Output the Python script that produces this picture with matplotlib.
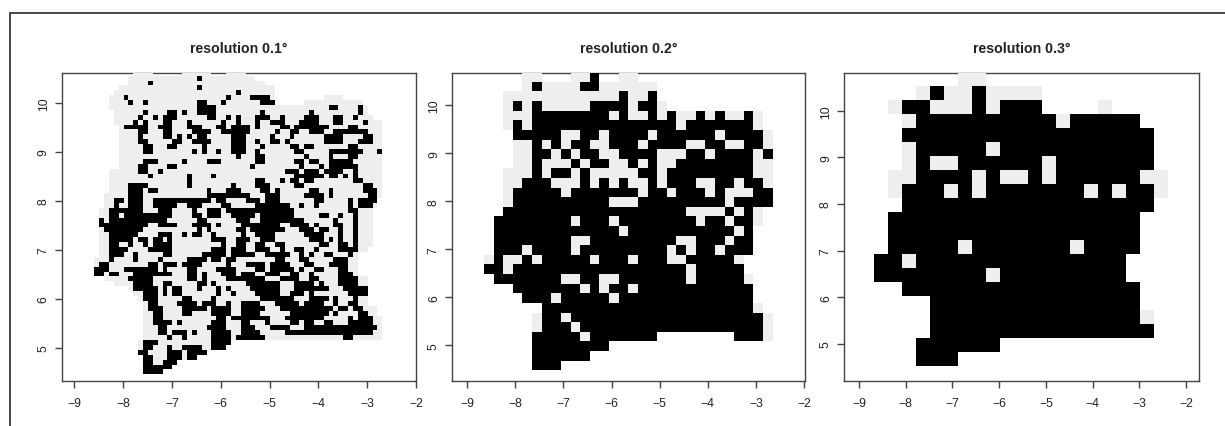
import matplotlib
matplotlib.use("Agg")
import matplotlib.pyplot as plt
import numpy as np
from matplotlib.colors import ListedColormap
from matplotlib.patches import Rectangle

plt.rcParams['font.family'] = ['Liberation Sans', 'DejaVu Sans']

W, H = 1225, 427

TITLES = ["resolution 0.1°", "resolution 0.2°", "resolution 0.3°"]
X_TICKS = [-9, -8, -7, -6, -5, -4, -3, -2]
Y_TICKS = [5, 6, 7, 8, 9, 10]
CELL_SIZES = [0.1, 0.2, 0.3]

# Each row, top to bottom: g = gridded land without record, # = cell with record
ROWS_01 = [
 "g8-11 g18-23 g27-30",
 "g7-32 #21",
 "g7-34 #11",
 "g5-36 #21",
 "g4-36 #29",
 "g3-36 g47-50 #6 #27 #32-35",
 "g3-36 g43-54 #7 #10 #21-22 #26 #34-36",
 "g3-55 #21-24 #48-49 #54",
 "g4-55 #10 #15-16 #18 #21-24 #34 #44 #54",
 "g4-56 #9 #12 #14-16 #23-24 #27 #29 #33-35 #38 #43-45 #49-50 #53",
 "g4-58 #8 #10 #14-15 #19 #26 #29 #33 #36-38 #42-45 #49-50 #55",
 "g5-58 #6-10 #13-15 #19-21 #25-26 #28-31 #33 #38-39 #41-46 #47 #52-53",
 "g5-58 #9-10 #14-15 #20-23 #26-27 #28-31 #37 #40-41 #44-46 #49-55",
 "g5-58 #9 #14-15 #17 #19 #21-22 #28-30 #36 #40 #47-50 #55-56",
 "g5-58 #9-10 #16-17 #20-23 #28-30 #33 #36-37 #39 #47-50 #54-56",
 "g5-58 #10-11 #15-16 #22 #28-30 #34 #40-41 #43-44 #52-53",
 "g5-58 #10-11 #20 #22 #25 #28-30 #33 #41-42 #48-53 #54 #58",
 "g5-58 #29 #33-34 #43 #48 #52-53",
 "g5-58 #10-12 #18 #23-25 #33-34 #41-42 #44-45 #48-52",
 "g5-58 #9-10 #15-16 #32 #42 #46 #48-52 #53",
 "g3-58 #9-10 #13 #39-41 #43-45 #47-50 #53",
 "g3-58 #11 #19 #24 #41-46 #48-49 #51 #53",
 "g3-58 #19 #33-34 #38 #40-41 #43-44 #53-54",
 "g3-58 #7-10 #19 #28 #33-35 #41-42 #55-56",
 "g3-58 #7-9 #11-12 #23 #27-29 #34-35 #37 #44-45 #48 #55-57",
 "g2-58 #7-9 #23-27 #28-31 #35-37 #43-46 #48 #56-57",
 "g2-57 #4-5 #7-9 #12-23 #25-26 #31-33 #35-37 #45-46 #52 #54-57",
 "g2-57 #4 #7-9 #12-16 #19-21 #26-27 #33-39 #42 #45 #52 #54-56",
 "g1-56 #3-9 #13-15 #20 #23-25 #27-29 #30-40 #52-53",
 "g1-56 #3-4 #6-10 #11-15 #20-21 #23-25 #28-32 #34-40 #46-47 #50 #53",
 "g1-56 #1 #3-10 #11-14 #21-22 #29-31 #34-42 #49 #53",
 "g1-56 #1 #2-10 #13-16 #20-23 #25 #30-37 #40-43 #45 #49-50 #53",
 "g1-56 #2-9 #21 #23 #29-30 #32-38 #42-44 #46-47 #50 #53",
 "g1-56 #3-8 #13-15 #18 #20-21 #24 #30 #33-36 #43-46 #50 #53",
 "g1-56 #3-7 #9-10 #12-13 #15 #24-26 #29-31 #34-36 #44-46 #48 #50 #53",
 "g1-56 #3-4 #7 #10 #12-15 #26 #29-30 #33-34 #37-38 #46-47 #50-51 #53",
 "g1-55 #3-6 #11-15 #24-26 #28-30 #33-35 #38 #41-42 #45 #50-53",
 "g1-53 #3-5 #8 #14-15 #22-26 #28-32 #35-39 #42 #44 #47-48 #52",
 "g0-53 #3 #8 #13 #19-22 #24-25 #27-28 #37-38 #42-43 #49-51",
 "g0-53 #1-2 #11-12 #14-16 #18-21 #27 #31-34 #36-39 #43-44 #48-51",
 "g0-53 #0-2 #6-12 #14 #19-20 #25-28 #33-34 #36-40 #42 #45-46 #50-51",
 "g0-53 #0-1 #3-4 #8-12 #13-15 #19-20 #22 #26-28 #30-32 #35-37 #40-41 #44 #50-52",
 "g2-55 #7-11 #19-20 #22 #27-29 #30-34 #38-41 #44-45 #50-53",
 "g4-55 #8-11 #14-15 #21-22 #24 #31-37 #41-44 #46 #50-53",
 "g7-55 #8-12 #14 #16-17 #21 #25 #27 #32-37 #41-47 #51-55",
 "g8-55 #10-12 #14 #16-17 #25 #28 #33-37 #40-42 #44 #52-55",
 "g9-55 #10-12 #18-19 #24 #34-40 #44-47 #49 #53",
 "g10-55 #11-12 #17-20 #22-24 #27 #30-33 #37-41 #43-46 #49 #52-53",
 "g10-57 #11-13 #18-22 #24-27 #30-34 #38-42 #43-48 #50-51 #53-54",
 "g10-57 #12-13 #18-19 #24-27 #30-33 #40-47 #49 #54-55",
 "g10-58 #12-13 #25-26 #28-35 #39-43 #44-46 #52 #54-56",
 "g10-58 #12-15 #17 #24-26 #30-31 #35 #40-41 #43-44 #47-48 #52-53 #54-56",
 "g10-58 #13-14 #23-26 #30-32 #36-39 #43-51 #52-53 #54-57",
 "g10-58 #13-14 #16-18 #20 #24-27 #30-33 #39-50 #51-53 #54-56",
 "g10-58 #15 #18 #24-27 #29-34 #51-52",
 "g9-27 #10-12 #24-27",
 "g9-26 #10-11 #15 #18-21 #24-26",
 "g9-22 #9-10 #15-17 #19-22",
 "g10-18 #10-11 #15-17 #19-20",
 "g10-16 #10-11 #14-16",
 "g10-14 #10-15",
 "g10-13 #10-13",
]

ROWS_02 = [
 "g4-5 g9-10 #11 g14-15",
 "g4 #5 g6-9 #10-11 g12-17",
 "g2-13 #14 g15-16 #17",
 "g2 #3 g4 #5 g6-10 #11-14 g15 #16-17 g18",
 "g2-4 #5-12 g13 #14 g15-16 #17 g18 #19 g20-21 #22 g23 #24 g25-26 #27 g28",
 "g2 #3 g4 #5-19 g20 #21-27 g28",
 "#3-7 g8-9 #10-11 g12 #13-16 g17 #18-23 g24 #25-28 g29",
 "g3-4 #5 g6 #7 g8 #9-10 g11-12 #13-15 g16 #17-20 g21-22 #23-24 g25-26 #27-28 g29",
 "g3-4 #5-6 g7 #8 g9 #10-11 g12-13 #14-17 g18-20 #21-22 g23 #24-27 g28 #29",
 "g3-4 #5 g6-8 #9 g10 #11-12 g13-14 #15 g16 #17 g18-19 #20-27 g28-29",
 "g2-4 #5 g6 #7-8 g9 #10 g11-15 #16-17 g18 #19-27 g28-29",
 "g2-3 #4-6 g7-9 #10 g11 #12 g13 #14 g15-16 #17 g18 #19-21 g22-23 #24-25 g26 #27-28 g29",
 "g2 #3-7 g8 #9-15 g16 #17-18 g19 #20-22 g23 #24 g25-27 #28-29",
 "g2 #3-12 g13-15 #16-24 g25 #26-29",
 "#2-20 g21-24 #25 g26 #27 g28",
 "#1-8 g9 #10-12 g13 #14-21 g22 #23-24 g25 #26-27 g28",
 "#1-13 g14 #15-25 g26 #27",
 "#1-8 g9-10 #11-19 g20-21 #22-24 g25 #26-27",
 "#1-3 g4 #5-8 g9 #10-18 g19 #20 g21 #22-23 g24 #25-27",
 "g0 #1 g2-3 #4 g5 #6-10 g11 #12-14 g15 #16-18 g19-20 #21-25 g26",
 "#0-1 g2 #3-20 g21 #22-26",
 "#1-7 g8-9 #10-11 g12-13 #14-20 g21 #22-26 g27",
 "#3-9 g10 #11 g12 #13-14 g15 #16-27",
 "#4-6 g7 #8-12 g13 #14-27",
 "#6-27 g28",
 "g5 #6-7 g8 #9-28 g29",
 "g5 #6-8 g9 #10-28 g29",
 "#5-9 g10 #11-17 #26-28 g29",
 "#5-12",
 "#5-10",
 "#5-7",
]

ROWS_03 = [
 "g6-7",
 "g3 #4 g5-6 #7 g8-11",
 "g1 #2-3 g4-6 #7 g8 #9-11 g16",
 "g2 #3-12 g13 #14-18",
 "#2-19",
 "g2 #3-7 g8 #9-19",
 "g2 #3 g4-5 #6-11 g12 #13-19",
 "g1-2 #3-6 g7 #8 g9-10 #11 g12 #13-18 g19-20",
 "g1 #2-4 g5 #6 g7 #8-14 g15 #16 g17 #18-19 g20",
 "#2-19",
 "#1-18",
 "#1-18",
 "#1-5 g6 #7-13 g14 #15-18",
 "#0-1 g2 #3-17",
 "#0-7 g8 #9-17",
 "#2-18",
 "#4-18",
 "#4-18 g19",
 "#4-19",
 "#3-8",
 "#3-5",
]

# Grid origin (west edge, south edge) of each raster, in degrees
GRID_X0 = [-8.59, -8.65, -8.68]
GRID_Y0 = [4.456, 4.485, 4.54]
XLIMS = [(-9.26, -2.0), (-9.32, -1.98), (-9.33, -1.72)]
YLIMS = [(4.33, 10.62), (4.27, 10.68), (4.22, 10.82)]
BOXES = [(61.5, 416), (451.7, 805), (843.7, 1199)]
TOP, BOTTOM = 73.5, 381.5


def parse(rows):
    ncol = 0
    cells = []
    for r, text in enumerate(rows):
        for tok in text.split():
            v = 1 if tok[0] == 'g' else 2
            p = tok[1:].split('-')
            a, b = int(p[0]), int(p[-1])
            cells.append((r, a, b, v))
            ncol = max(ncol, b + 1)
    grid = np.zeros((len(rows), ncol))
    for v in (1, 2):
        for r, a, b, val in cells:
            if val == v:
                grid[r, a:b + 1] = v
    return np.ma.masked_equal(grid, 0)


fig = plt.figure(figsize=(W / 100, H / 100), dpi=100, facecolor='white')
fig.add_artist(Rectangle((9.5 / W, -0.1), 1.2, 1.1 - 13.5 / H, transform=fig.transFigure,
                         fill=False, ec='#2a2a2a', lw=1.2))

cmap = ListedColormap(['#eeeeee', 'black'])
EDGE = '#444444'
for i, rows in enumerate([ROWS_01, ROWS_02, ROWS_03]):
    l, r = BOXES[i]
    ax = fig.add_axes([l / W, 1 - BOTTOM / H, (r - l) / W, (BOTTOM - TOP) / H])
    ax.patch.set_alpha(0)
    grid = parse(rows)
    nr, nc = grid.shape
    d = CELL_SIZES[i]
    xe = GRID_X0[i] + d * np.arange(nc + 1)
    ye = GRID_Y0[i] + d * np.arange(nr + 1)
    ax.set_xlim(*XLIMS[i])
    ax.set_ylim(*YLIMS[i])
    for s in ax.spines.values():
        s.set_linewidth(1.0)
        s.set_color(EDGE)
        s.set_zorder(1)
    ax.pcolormesh(xe, ye, grid[::-1], cmap=cmap, vmin=1, vmax=2, zorder=2,
                  linewidth=0, antialiased=False)
    ax.set_xticks(X_TICKS)
    ax.set_yticks(Y_TICKS)
    ax.tick_params(axis='both', length=5, width=1.0, color=EDGE, labelsize=8.7,
                   labelcolor='#222222')
    ax.tick_params(axis='x', pad=7)
    ax.tick_params(axis='y', pad=3.5)
    plt.setp(ax.get_yticklabels(), rotation=90, va='center')
    ax.set_title(TITLES[i], fontsize=10.2, fontweight='bold', color='#222222', pad=14.7)

fig.savefig('out.png', dpi=100)
